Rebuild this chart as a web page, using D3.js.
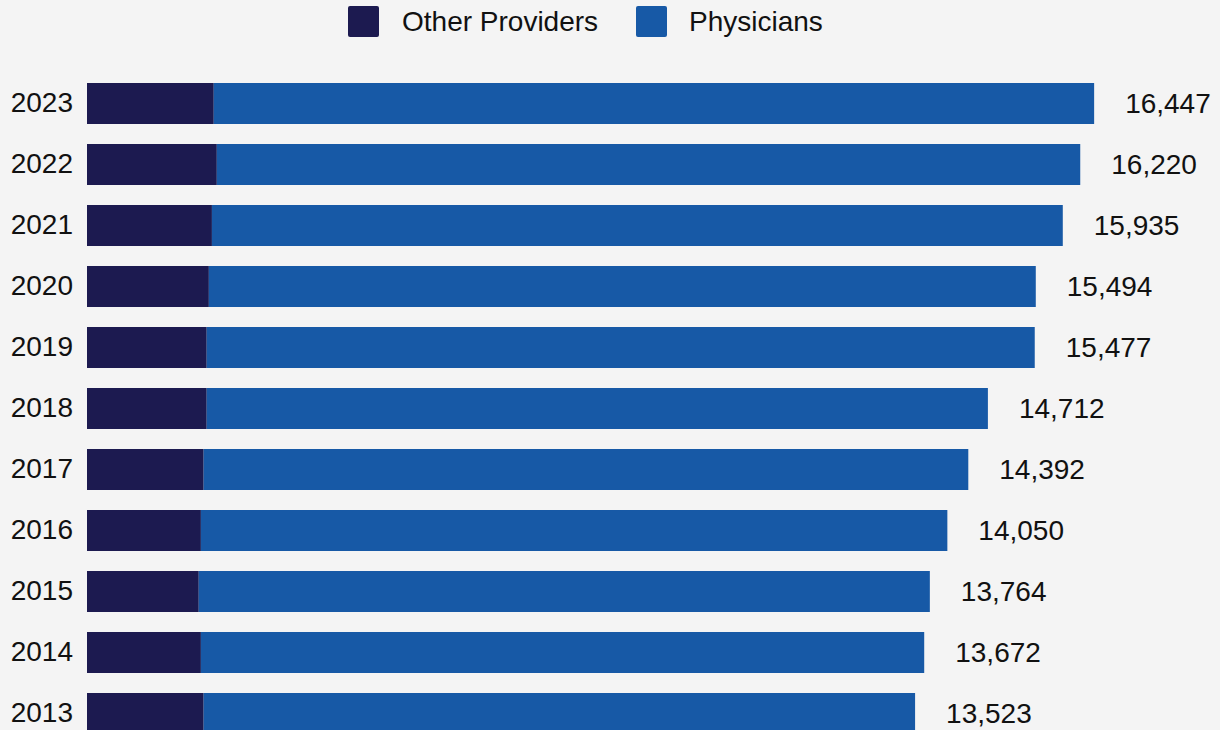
<!DOCTYPE html>
<html>
<head>
<meta charset="utf-8">
<script src="https://cdn.jsdelivr.net/npm/d3@7"></script>
<style>
  html, body { margin: 0; padding: 0; background: #f4f4f4; overflow: hidden; }
  svg { display: block; font-family: "Liberation Sans", Arial, sans-serif; }
</style>
</head>
<body>
<svg id="chart" width="1220" height="730"></svg>
<script>
// Provider counts by year (top to bottom)
const years = ["2023", "2022", "2021", "2020", "2019", "2018", "2017", "2016", "2015", "2014", "2013"];
const otherProviders = [2070, 2120, 2040, 1990, 1955, 1955, 1905, 1860, 1825, 1860, 1905];
const physicians = [14377, 14100, 13895, 13504, 13522, 12757, 12487, 12190, 11939, 11812, 11618];
const seriesNames = ["Other Providers", "Physicians"];
const seriesColors = ["#1c1a50", "#1759a6"];

const rows = years.map((y, i) => ({
  year: y,
  "Other Providers": otherProviders[i],
  "Physicians": physicians[i]
}));

const svg = d3.select("#chart");
const W = 1220, H = 730;
const FS = 28;
svg.append("rect").attr("width", W).attr("height", H).attr("fill", "#f4f4f4");

const x = d3.scaleLinear().domain([0, 17000]).range([87, 1128]);
const y = d3.scaleBand().domain(years).range([73, 744])
  .paddingInner(0.328).paddingOuter(0.164);

const stack = d3.stack().keys(seriesNames);
const layers = stack(rows);
const color = d3.scaleOrdinal().domain(seriesNames).range(seriesColors);

svg.append("g").selectAll("g")
  .data(layers)
  .join("g")
  .attr("fill", d => color(d.key))
  .selectAll("rect")
  .data(d => d)
  .join("rect")
  .attr("x", d => x(d[0]))
  .attr("y", d => y(d.data.year))
  .attr("width", d => x(d[1]) - x(d[0]))
  .attr("height", y.bandwidth());

// Year axis on the left, no line or ticks
const yAxis = d3.axisLeft(y).tickSize(0).tickPadding(14);
const gy = svg.append("g").attr("transform", `translate(87,0)`).call(yAxis);
gy.select(".domain").remove();
gy.selectAll("text")
  .attr("font-family", "Liberation Sans, Arial, sans-serif")
  .attr("font-size", FS)
  .attr("fill", "#111");

// Total labels at the end of each bar
const fmt = d3.format(",");
svg.append("g").selectAll("text")
  .data(layers[layers.length - 1])
  .join("text")
  .attr("x", d => x(d[1]) + 31)
  .attr("y", d => y(d.data.year) + y.bandwidth() / 2)
  .attr("dy", "0.35em")
  .attr("font-size", FS)
  .attr("fill", "#111")
  .text(d => fmt(d[1]));

// Legend
const legendItems = [
  { name: seriesNames[0], sx: 348, tx: 402 },
  { name: seriesNames[1], sx: 636, tx: 689 }
];
const lg = svg.append("g");
legendItems.forEach(it => {
  lg.append("rect")
    .attr("x", it.sx).attr("y", 6)
    .attr("width", 31).attr("height", 31)
    .attr("rx", 2)
    .attr("fill", color(it.name));
  lg.append("text")
    .attr("x", it.tx).attr("y", 21.5)
    .attr("dy", "0.35em")
    .attr("font-size", FS)
    .attr("fill", "#111")
    .text(it.name);
});
</script>
</body>
</html>
